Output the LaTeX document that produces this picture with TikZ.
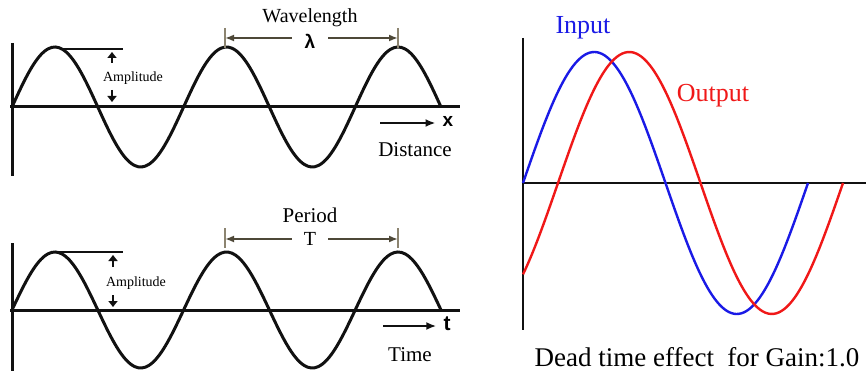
\documentclass[tikz,border=0pt]{standalone}
\usepackage{fontspec}
\setmainfont{Liberation Serif}
\setsansfont{Liberation Sans}
\usetikzlibrary{arrows.meta}
\definecolor{Ink}{HTML}{111111}
\definecolor{Dim}{HTML}{4E4838}
\definecolor{DimTick}{HTML}{8C8470}
\definecolor{InBlue}{HTML}{1A1AE6}
\definecolor{OutRed}{HTML}{F01818}

\begin{document}
\begin{tikzpicture}[x=1pt,y=-1pt,
      axis/.style={line width=3pt,color=Ink},
      wave/.style={line width=3pt,color=Ink,smooth,samples=120},
      trace/.style={line width=2.4pt,smooth,samples=120},
      lbl/.style={inner sep=0pt,font=\fontsize{21}{24}\selectfont},
      small/.style={inner sep=0pt,font=\fontsize{14}{16}\selectfont},
      big/.style={inner sep=0pt,font=\fontsize{27}{30}\selectfont},
      dim/.style={-{Latex[length=9pt,width=7pt]},line width=2pt,color=Dim},
      dimtick/.style={line width=2pt,color=DimTick},
      arrow/.style={-{Latex[length=10pt,width=8pt]},line width=2.8pt,color=Ink},
      amparrow/.style={-{Triangle[length=6pt,width=9pt]},line width=2.2pt,color=Ink}
    ]
      \useasboundingbox (0,0) rectangle (866,371);
      \fill[white] (0,0) rectangle (866,371);

      % distance plot
      \draw[axis] (12,43) -- (12,176);
      \draw[axis] (10,107) -- (460,107);
      \draw[wave] plot[domain=12:441] ({\x},{107-60*sin(2.0979*(\x-12))});
      \draw[line width=2.4pt,color=Ink] (62,49) -- (123,49);
      \node[small] (amp) at (133,78) {Amplitude};
      \coordinate (ampTop) at (112,52);
      \coordinate (ampUp) at (112,63);
      \coordinate (ampDown) at (112,90);
      \coordinate (ampBot) at (112,102);
      \draw[amparrow] (ampUp) -- (ampTop);
      \draw[amparrow] (ampDown) -- (ampBot);
      \node[lbl,font=\fontsize{20}{24}\selectfont] (wavelength) at (310,18) {Wavelength};
      \node[inner sep=0pt,minimum width=36pt,font=\sffamily\bfseries\fontsize{19}{20}\selectfont] (lambda) at (310,41) {λ};
      \coordinate (wlL) at (225,38);
      \coordinate (wlR) at (398,38);
      \draw[dimtick] (225,28) -- (225,48);
      \draw[dimtick] (398,28) -- (398,48);
      \draw[dim] (lambda.west |- wlL) -- (wlL);
      \draw[dim] (lambda.east |- wlR) -- (wlR);
      \node[inner sep=0pt,font=\sffamily\bfseries\fontsize{19}{20}\selectfont] (xvar) at (448,121) {x};
      \coordinate (distStart) at (380,123);
      \draw[arrow,shorten >=7pt] (distStart) -- (distStart -| xvar.west);
      \node[lbl] (distance) at (415,150) {Distance};

      % time plot
      \draw[axis] (12,243) -- (12,371);
      \draw[axis] (10,310) -- (460,310);
      \draw[wave] plot[domain=12:441] ({\x},{310-58*sin(2.0979*(\x-12))});
      \draw[line width=2.4pt,color=Ink] (58,252) -- (123,252);
      \node[small] (amp2) at (136,283) {Amplitude};
      \coordinate (amp2Top) at (113,255);
      \coordinate (amp2Up) at (113,267);
      \coordinate (amp2Down) at (113,295);
      \coordinate (amp2Bot) at (113,307);
      \draw[amparrow] (amp2Up) -- (amp2Top);
      \draw[amparrow] (amp2Down) -- (amp2Bot);
      \node[lbl] (period) at (310,215) {Period};
      \node[inner sep=0pt,minimum width=36pt,font=\fontsize{20}{22}\selectfont] (tper) at (310,239) {T};
      \coordinate (prL) at (225,239);
      \coordinate (prR) at (398,239);
      \draw[dimtick] (225,228) -- (225,248);
      \draw[dimtick] (398,228) -- (398,248);
      \draw[dim] (tper.west) -- (prL);
      \draw[dim] (tper.east) -- (prR);
      \node[inner sep=0pt,font=\sffamily\bfseries\fontsize{21}{22}\selectfont] (tvar) at (447,324) {t};
      \coordinate (timeStart) at (383,326);
      \draw[arrow,shorten >=7pt] (timeStart) -- (timeStart -| tvar.west);
      \node[lbl] (time) at (410,355) {Time};

      % dead time plot
      \draw[line width=2.6pt,color=Ink] (523,38) -- (523,330);
      \draw[line width=2.6pt,color=Ink] (523,183) -- (866,183);
      \draw[trace,InBlue] plot[domain=523:808] ({\x},{183-131*sin(1.263158*(\x-523))});
      \draw[trace,OutRed] plot[domain=523:843] ({\x},{183-131*sin(1.263158*(\x-558))});
      \node[big,text=InBlue,font=\fontsize{26}{30}\selectfont] (input) at (583,28) {Input};
      \node[big,text=OutRed,font=\fontsize{26}{30}\selectfont] (output) at (713,96) {Output};
      \node[big] (caption) at (697,357) {Dead time effect\ \ for Gain:1.0};
    \end{tikzpicture}
\end{document}
